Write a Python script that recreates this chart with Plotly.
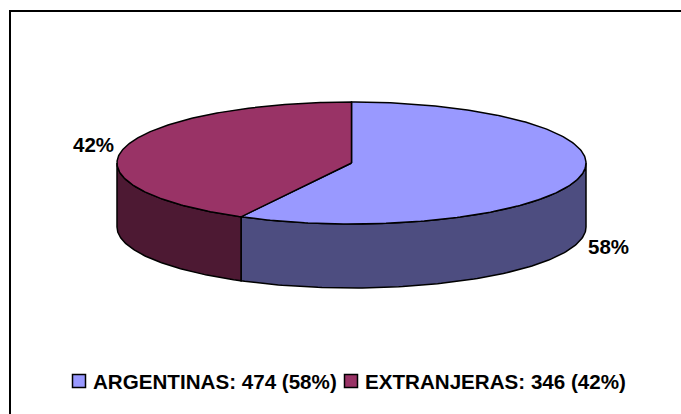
import numpy as np
import plotly.graph_objects as go

categories = ["ARGENTINAS", "EXTRANJERAS"]
values = [474, 346]
percent_labels = ["58%", "42%"]
top_colors = ["#9999FF", "#993366"]
side_colors = ["#4D4D80", "#4D1933"]

W, H = 681, 414
CX, CY, RX, RY, DEPTH = 351.5, 163, 234.5, 61, 64


def ex(t):
    return CX + RX * np.sin(t)


def ey(t):
    return CY - RY * np.cos(t)


total = sum(values)
fractions = [v / total for v in values]
edges = np.cumsum([0] + fractions) * 2 * np.pi
fig = go.Figure()
LINE = dict(color="black", width=1.5)

# side walls: only the front half of the ellipse (pi/2 .. 3pi/2) is visible
for i in range(len(values)):
    a = max(edges[i], np.pi / 2)
    b = min(edges[i + 1], 3 * np.pi / 2)
    if b > a:
        t = np.linspace(a, b, 120)
        xs = np.concatenate([ex(t), ex(t[::-1])])
        ys = np.concatenate([ey(t), ey(t[::-1]) + DEPTH])
        fig.add_trace(go.Scatter(x=np.r_[xs, xs[0]], y=np.r_[ys, ys[0]], mode="lines", fill="toself",
                                 fillcolor=side_colors[i], line=LINE, showlegend=False,
                                 hoverinfo="skip"))

# top faces
for i in range(len(values)):
    t = np.linspace(edges[i], edges[i + 1], 240)
    xs = np.r_[CX, ex(t), CX]
    ys = np.r_[CY, ey(t), CY]
    fig.add_trace(go.Scatter(x=xs, y=ys, mode="lines", fill="toself",
                             fillcolor=top_colors[i], line=LINE, showlegend=False,
                             hoverinfo="skip"))

# legend keys and texts
legend_x = [79, 351]
legend_text_x = [90.5, 362.5]
legend_y = 381
for i, c in enumerate(categories):
    fig.add_shape(type="rect", xref="x", yref="y", x0=legend_x[i] - 6.5, x1=legend_x[i] + 6.5,
                  y0=legend_y - 6.5, y1=legend_y + 6.5, fillcolor=top_colors[i],
                  line=dict(color="black", width=1.5))
    fig.add_annotation(x=legend_text_x[i], y=legend_y, xref="x", yref="y",
                       text=f"<b>{c}: {values[i]} ({percent_labels[i]})</b>", showarrow=False,
                       xanchor="left", yanchor="middle",
                       font=dict(family="Liberation Sans", size=20.6, color="black"))

# slice labels
label_pos = [(608.5, 246), (93, 144)]
for i, p in enumerate(percent_labels):
    fig.add_annotation(x=label_pos[i][0], y=label_pos[i][1], xref="x", yref="y",
                       text=f"<b>{p}</b>", showarrow=False,
                       font=dict(family="Liberation Sans", size=20.5, color="black"))

# outer frame: only the top and left edges fall inside the picture
fig.add_shape(type="line", xref="x", yref="y", x0=10, x1=W, y0=11, y1=11,
              line=dict(color="black", width=2))
fig.add_shape(type="line", xref="x", yref="y", x0=10, x1=10, y0=10, y1=H,
              line=dict(color="black", width=2))

fig.update_layout(
    width=W, height=H, margin=dict(l=0, r=0, t=0, b=0),
    paper_bgcolor="white", plot_bgcolor="white", showlegend=False,
    xaxis=dict(range=[0, W], visible=False, fixedrange=True),
    yaxis=dict(range=[H, 0], visible=False, fixedrange=True),
)
fig.write_html("out.html", config=dict(displayModeBar=False),
               post_script="document.body.style.margin='0';document.documentElement.style.overflow='hidden';")
